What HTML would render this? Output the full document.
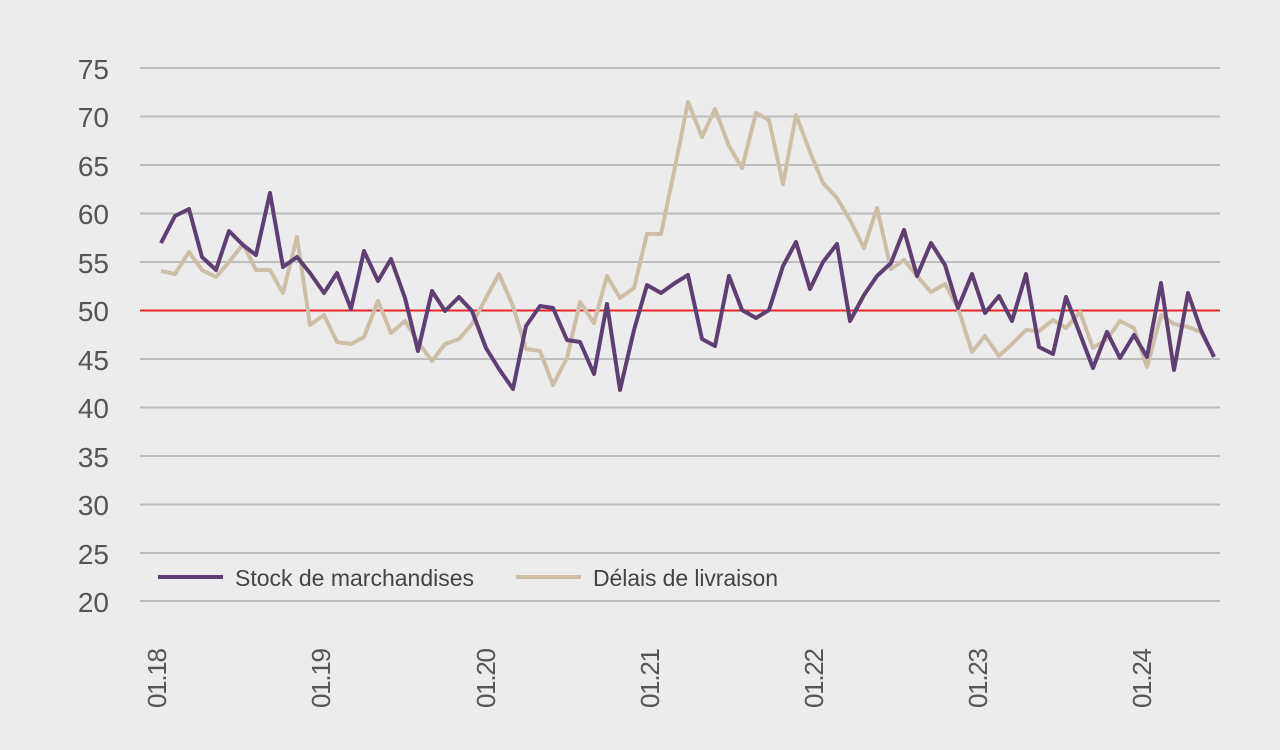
<!DOCTYPE html>
<html><head><meta charset="utf-8"><style>
html,body{margin:0;padding:0;background:#ececec;}
svg{display:block;font-family:"Liberation Sans",sans-serif;}
</style></head><body>
<svg width="1280" height="750" viewBox="0 0 1280 750">
<rect width="1280" height="750" fill="#ececec"/>
<g stroke="#bdbdbd" stroke-width="2">
<line x1="140" x2="1220" y1="68" y2="68"/><line x1="140" x2="1220" y1="116.5" y2="116.5"/>
<line x1="140" x2="1220" y1="165" y2="165"/><line x1="140" x2="1220" y1="213.5" y2="213.5"/>
<line x1="140" x2="1220" y1="262" y2="262"/>
<line x1="140" x2="1220" y1="359" y2="359"/><line x1="140" x2="1220" y1="407.5" y2="407.5"/>
<line x1="140" x2="1220" y1="456" y2="456"/><line x1="140" x2="1220" y1="504.5" y2="504.5"/>
<line x1="140" x2="1220" y1="553" y2="553"/><line x1="140" x2="1220" y1="601" y2="601"/>
</g>
<line x1="140" x2="1220" y1="310.5" y2="310.5" stroke="#e8262a" stroke-width="2"/>
<g fill="#555" font-size="28" text-anchor="end">
<text x="109" y="79">75</text><text x="109" y="127">70</text><text x="109" y="176">65</text>
<text x="109" y="224">60</text><text x="109" y="273">55</text><text x="109" y="321">50</text>
<text x="109" y="370">45</text><text x="109" y="418">40</text><text x="109" y="467">35</text>
<text x="109" y="515">30</text><text x="109" y="564">25</text><text x="109" y="612">20</text>
</g>
<g fill="#555" font-size="26">
<text transform="translate(166,708) rotate(-90)" textLength="60">01.18</text>
<text transform="translate(330,708) rotate(-90)" textLength="60">01.19</text>
<text transform="translate(495,708) rotate(-90)" textLength="60">01.20</text>
<text transform="translate(659,708) rotate(-90)" textLength="60">01.21</text>
<text transform="translate(823,708) rotate(-90)" textLength="60">01.22</text>
<text transform="translate(987,708) rotate(-90)" textLength="60">01.23</text>
<text transform="translate(1151,708) rotate(-90)" textLength="60">01.24</text>
</g>
<polyline fill="none" stroke="#cdbea8" stroke-width="4" stroke-linejoin="round" points="161,271 175,274 189,252 202,270 216,277 229,262 243,244 256,270 270,270 283,293 297,237 310,325 324,315 337,342 351,344 364,337 378,301 391,333 405,321 418,342 432,361 445,344 459,339 472,324 486,298 499,274 513,306 526,349 540,351 553,385 567,358 580,302 594,323 607,276 620,298 634,288 647,234 661,234 675,167 688,102 702,137 715,109 729,146 742,168 756,113 769,120 783,184 796,115 810,152 823,183 837,198 850,220 864,248 877,208 891,269 904,260 917,276 931,292 945,284 958,308 972,352 985,336 999,356 1012,344 1026,330 1039,331 1053,320 1066,328 1080,312 1093,348 1107,339 1120,321 1134,328 1147,367 1161,315 1174,324 1188,327 1201,332 1214,356"/>
<polyline fill="none" stroke="#5e3f72" stroke-width="4" stroke-linejoin="round" points="161,243 175,216 189,209 202,257 216,270 229,231 243,245 256,255 270,193 283,267 297,257 310,273 324,293 337,273 351,309 364,251 378,281 391,259 405,298 418,351 432,291 445,311 459,297 472,311 486,348 499,369 513,389 526,326 540,306 553,308 567,340 580,342 594,374 607,304 620,390 634,330 647,285 661,293 675,283 688,275 702,339 715,346 729,276 742,310 756,318 769,310 783,266 796,242 810,289 823,262 837,244 850,321 864,295 877,276 891,263 904,230 917,276 931,243 945,265 958,308 972,274 985,313 999,296 1012,321 1026,274 1039,347 1053,354 1066,297 1080,334 1093,368 1107,332 1120,358 1134,335 1147,357 1161,283 1174,370 1188,293 1201,330 1214,357"/>
<line x1="158" x2="223" y1="577" y2="577" stroke="#5e3f72" stroke-width="4"/>
<text x="235" y="586" fill="#444" font-size="23" textLength="239">Stock de marchandises</text>
<line x1="516" x2="581" y1="577" y2="577" stroke="#cdbea8" stroke-width="4"/>
<text x="593" y="586" fill="#444" font-size="23" textLength="185">Délais de livraison</text>
</svg>
</body></html>
